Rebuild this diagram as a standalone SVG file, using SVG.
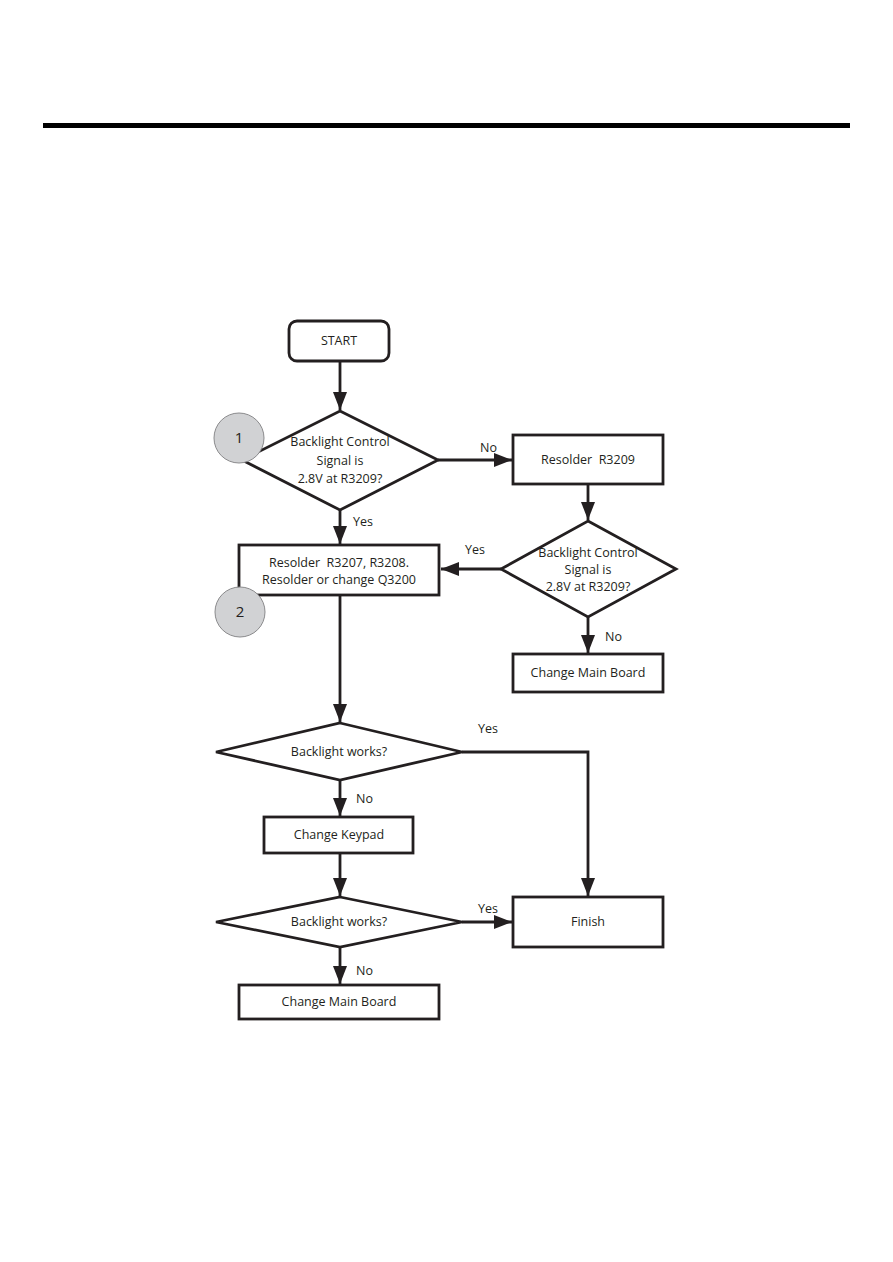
<svg xmlns="http://www.w3.org/2000/svg" width="893" height="1262" viewBox="0 0 893 1262">
<style>
.shape{fill:#fff;stroke:#231f20;stroke-width:2.8}
.circ{fill:#d1d2d4;stroke:#8a8a8c;stroke-width:1}
.t{font-family:"Open Sans","Noto Sans",sans-serif;font-size:12.5px;fill:#231f20;text-anchor:middle}
.lbl{font-family:"Open Sans","Noto Sans",sans-serif;font-size:12.5px;fill:#231f20}
.c{fill:none;stroke:#231f20;stroke-width:2.8}
</style>
<defs>
<marker id="ah" markerUnits="userSpaceOnUse" markerWidth="18" markerHeight="14" refX="18" refY="7" orient="auto">
<path d="M0,0 L18,7 L0,14 z" fill="#231f20"/>
</marker>
</defs>
<rect x="43" y="123" width="807" height="5" fill="#000"/>
<g id="connectors">
<line class="c" x1="340" y1="362" x2="340" y2="410" marker-end="url(#ah)"/>
<line class="c" x1="438" y1="460" x2="512" y2="460" marker-end="url(#ah)"/>
<line class="c" x1="588" y1="484" x2="588" y2="520" marker-end="url(#ah)"/>
<line class="c" x1="501" y1="569" x2="441" y2="569" marker-end="url(#ah)"/>
<line class="c" x1="588" y1="617" x2="588" y2="653" marker-end="url(#ah)"/>
<line class="c" x1="340" y1="510" x2="340" y2="544" marker-end="url(#ah)"/>
<line class="c" x1="340" y1="595" x2="340" y2="722" marker-end="url(#ah)"/>
<polyline class="c" points="462,752 588,752 588,896" marker-end="url(#ah)"/>
<line class="c" x1="340" y1="780" x2="340" y2="816" marker-end="url(#ah)"/>
<line class="c" x1="340" y1="853" x2="340" y2="896" marker-end="url(#ah)"/>
<line class="c" x1="462" y1="922" x2="512" y2="922" marker-end="url(#ah)"/>
<line class="c" x1="340" y1="947" x2="340" y2="984" marker-end="url(#ah)"/>
<text class="lbl" x="480" y="452">No</text>
<text class="lbl" x="465" y="554">Yes</text>
<text class="lbl" x="605" y="641">No</text>
<text class="lbl" x="353" y="526">Yes</text>
<text class="lbl" x="478" y="733">Yes</text>
<text class="lbl" x="356" y="803">No</text>
<text class="lbl" x="478" y="913">Yes</text>
<text class="lbl" x="356" y="975">No</text>
</g>
<g id="start">
<rect class="shape" x="289" y="321" width="100" height="40" rx="8"/>
<text class="t" x="339" y="345">START</text>
</g>
<g id="decision1">
<polygon class="shape" points="340,411 438,460 340,510 242,460"/>
<text class="t" x="340" y="446">Backlight Control</text>
<text class="t" x="340" y="465">Signal is</text>
<text class="t" x="340" y="483">2.8V at R3209?</text>
</g>
<g id="marker1">
<circle class="circ" cx="239" cy="438" r="25"/>
<text class="t" x="239" y="443" style="font-size:15px">1</text>
</g>
<g id="resolder-r3209">
<rect class="shape" x="513" y="435" width="150" height="49"/>
<text class="t" x="588" y="464">Resolder&#160; R3209</text>
</g>
<g id="decision2">
<polygon class="shape" points="588,521 676,569 588,617 501,569"/>
<text class="t" x="588" y="557">Backlight Control</text>
<text class="t" x="588" y="574">Signal is</text>
<text class="t" x="588" y="591">2.8V at R3209?</text>
</g>
<g id="change-main-board-1">
<rect class="shape" x="513" y="654" width="150" height="38"/>
<text class="t" x="588" y="677">Change Main Board</text>
</g>
<g id="resolder-r3207">
<rect class="shape" x="239" y="545" width="200" height="50"/>
<text class="t" x="339" y="567">Resolder&#160; R3207, R3208.</text>
<text class="t" x="339" y="584">Resolder or change Q3200</text>
</g>
<g id="marker2">
<circle class="circ" cx="240" cy="612" r="25"/>
<text class="t" x="240" y="617" style="font-size:15px">2</text>
</g>
<g id="decision3">
<polygon class="shape" points="340,723 462,752 340,780 216,752"/>
<text class="t" x="339" y="756">Backlight works?</text>
</g>
<g id="change-keypad">
<rect class="shape" x="264" y="817" width="149" height="36"/>
<text class="t" x="339" y="839">Change Keypad</text>
</g>
<g id="decision4">
<polygon class="shape" points="340,897 462,922 340,947 216,922"/>
<text class="t" x="339" y="926">Backlight works?</text>
</g>
<g id="finish">
<rect class="shape" x="513" y="897" width="150" height="50"/>
<text class="t" x="588" y="926">Finish</text>
</g>
<g id="change-main-board-2">
<rect class="shape" x="239" y="985" width="200" height="34"/>
<text class="t" x="339" y="1006">Change Main Board</text>
</g>
</svg>
